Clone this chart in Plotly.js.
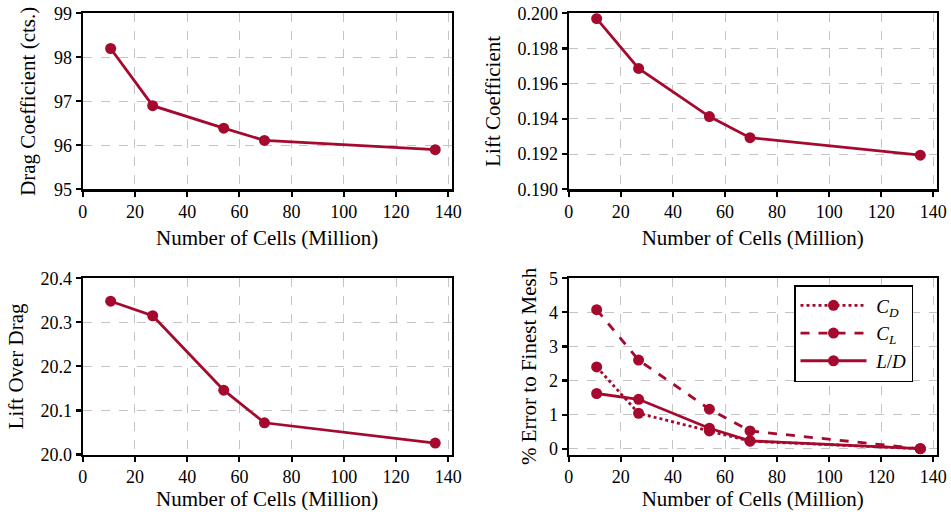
<!DOCTYPE html>
<html>
<head>
<meta charset="utf-8">
<script src="https://cdn.plot.ly/plotly-3.0.1.min.js"></script>
<style>html,body{margin:0;padding:0;background:#fff;}#chart{width:951px;height:518px;}</style>
</head>
<body>
<div id="chart"></div>
<script>
// Data
const cells = [10.7, 26.8, 54.0, 69.6, 135.0];
const dragCounts = [98.2, 96.9, 96.39, 96.11, 95.9];
const liftCoeff = [0.1997, 0.19687, 0.19413, 0.19293, 0.19194];
const liftOverDrag = [20.348, 20.315, 20.146, 20.072, 20.026];
const errCD = [2.40, 1.04, 0.52, 0.22, 0.0];
const errCL = [4.08, 2.60, 1.16, 0.52, 0.0];
const errLD = [1.62, 1.45, 0.60, 0.23, 0.0];
const seriesNames = ['&nbsp;<i>C</i><sub><i>D</i></sub>', '&nbsp;<i>C</i><sub><i>L</i></sub>', '&nbsp;<i>L</i>/<i>D</i>'];
const xTitle = 'Number of Cells (Million)';
const yTitles = ['Drag Coefficient (cts.)', 'Lift Coefficient', 'Lift Over Drag', '% Error to Finest Mesh'];

const red = '#a50a2e';
const font = "'Liberation Serif', 'Times New Roman', serif";

function tr(x, y, xa, ya, dash, name, show) {
  return {
    x: x, y: y, xaxis: xa, yaxis: ya, type: 'scatter', mode: 'lines+markers',
    name: name || '', showlegend: !!show,
    line: {color: red, width: 2.8, dash: dash || 'solid'},
    marker: {color: red, size: 11, symbol: 'circle'}
  };
}

const data = [
  tr(cells, dragCounts, 'x', 'y'),
  tr(cells, liftCoeff, 'x2', 'y2'),
  tr(cells, liftOverDrag, 'x3', 'y3'),
  tr(cells, errCD, 'x4', 'y4', 'dot', seriesNames[0], true),
  tr(cells, errCL, 'x4', 'y4', 'dash', seriesNames[1], true),
  tr(cells, errLD, 'x4', 'y4', 'solid', seriesNames[2], true)
];

const W = 951, H = 518;
const xdL = [82.7 / W, 451.7 / W];
const xdR = [568.8 / W, 936.7 / W];
const ydT = [1 - 189.3 / H, 1 - 13.3 / H];
const ydB = [1 - 454.5 / H, 1 - 278.3 / H];

function xax(dom, anchor, standoff) {
  return {
    domain: dom, anchor: anchor, range: [0, 141.3], tickvals: [0, 20, 40, 60, 80, 100, 120, 140],
    showline: true, mirror: true, linecolor: '#000', linewidth: 2.2,
    ticks: 'outside', ticklen: 5, tickwidth: 2.2, tickcolor: '#000',
    showgrid: true, gridcolor: '#c4c4c4', griddash: 'dash', gridwidth: 1, zeroline: false,
    tickfont: {family: font, size: 18, color: '#000'},
    title: {text: xTitle, font: {family: font, size: 21, color: '#000'}, standoff: standoff}
  };
}
function yax(dom, anchor, range, tickvals, fmt, title, standoff) {
  return {
    domain: dom, anchor: anchor, range: range, tickvals: tickvals, tickformat: fmt,
    showline: true, mirror: true, linecolor: '#000', linewidth: 2.2,
    ticks: 'outside', ticklen: 5, tickwidth: 2.2, tickcolor: '#000',
    showgrid: true, gridcolor: '#c4c4c4', griddash: 'dash', gridwidth: 1, zeroline: false,
    tickfont: {family: font, size: 18, color: '#000'},
    title: {text: title, font: {family: font, size: 21, color: '#000'}, standoff: standoff}
  };
}

const layout = {
  width: W, height: H,
  margin: {l: 0, r: 0, t: 0, b: 0},
  paper_bgcolor: '#fff', plot_bgcolor: '#fff',
  font: {family: font, color: '#000'},
  xaxis: xax(xdL, 'y', 9),
  yaxis: yax(ydT, 'x', [95, 99], [95, 96, 97, 98, 99], 'd', yTitles[0], 13),
  xaxis2: xax(xdR, 'y2', 9),
  yaxis2: yax(ydT, 'x2', [0.19, 0.2], [0.19, 0.192, 0.194, 0.196, 0.198, 0.2], '.3f', yTitles[1], 11),
  xaxis3: xax(xdL, 'y3', 5),
  yaxis3: yax(ydB, 'x3', [20.0, 20.4], [20.0, 20.1, 20.2, 20.3, 20.4], '.1f', yTitles[2], 11),
  xaxis4: xax(xdR, 'y4', 5),
  yaxis4: yax(ydB, 'x4', [-0.17, 5], [0, 1, 2, 3, 4, 5], 'd', yTitles[3], 7),
  showlegend: true,
  legend: {
    x: 794 / W, xanchor: 'left', y: 1 - 285 / H, yanchor: 'top',
    bgcolor: '#fff', bordercolor: '#000', borderwidth: 1.5,
    font: {family: font, size: 19, color: '#000'},
    itemwidth: 66, tracegroupgap: 0
  }
};

Plotly.newPlot('chart', data, layout, {staticPlot: true, displayModeBar: false});
</script>
</body>
</html>
